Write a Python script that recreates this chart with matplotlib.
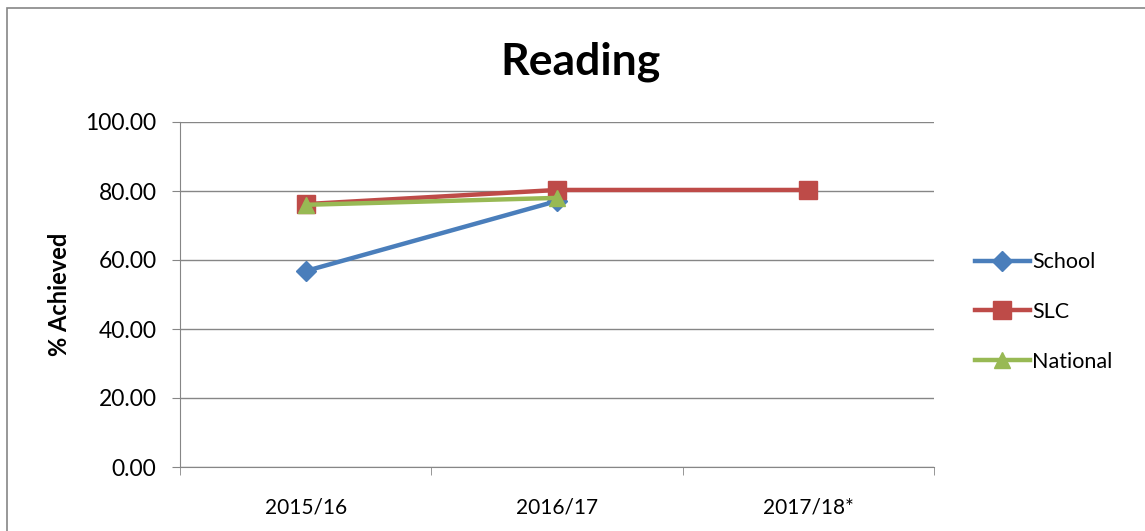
import matplotlib.pyplot as plt
from matplotlib.patches import Rectangle

# Reading attainment by year
years = ['2015/16', '2016/17', '2017/18*']
school = [56.8, 77.1, None]
slc = [76.2, 80.3, 80.3]
national = [76.0, 78.0, None]
y_ticks = [0, 20, 40, 60, 80, 100]

plt.rcParams['font.family'] = ['Lato', 'DejaVu Sans']

fig = plt.figure(figsize=(11.45, 5.31), dpi=100)
ax = fig.add_axes([180 / 1145, 1 - 467 / 531, (934 - 180) / 1145, (467 - 122) / 531])

grey = '#868686'
x = list(range(len(years)))


def pts(vals):
    xs = [i for i, v in zip(x, vals) if v is not None]
    ys = [v for v in vals if v is not None]
    return xs, ys


ax.plot(*pts(school), color='#4A7EBB', lw=3.2, marker='D', ms=10, label='School', zorder=3)
ax.plot(*pts(slc), color='#BE4B48', lw=3.2, marker='s', ms=13, label='SLC', zorder=3)
ax.plot(*pts(national), color='#98B954', lw=3.2, marker='^', ms=11, label='National', zorder=4)

ax.set_xlim(-0.5, len(years) - 0.5)
ax.set_ylim(0, 100)
ax.set_yticks(y_ticks)
ax.set_yticklabels([f'{v:.2f}' for v in y_ticks], fontsize=16.5)
ax.set_xticks(x)
ax.set_xticklabels(years, fontsize=15)
ax.tick_params(axis='x', length=0, pad=22)
ax.tick_params(axis='y', length=6, color=grey, pad=11)
ax.set_xticks([i - 0.5 for i in range(len(years) + 1)], minor=True)
ax.tick_params(axis='x', which='minor', length=6, color=grey)

ax.grid(axis='y', color=grey, lw=1)
ax.set_axisbelow(True)
for side in ['top', 'right']:
    ax.spines[side].set_visible(False)
for side in ['left', 'bottom']:
    ax.spines[side].set_color(grey)

ax.set_ylabel('% Achieved', fontsize=17, fontweight='bold', labelpad=10)
fig.text(0.507, 1 - 62 / 531, 'Reading', ha='center', va='center', fontsize=32, fontweight='bold')

ax.legend(loc='center left', bbox_to_anchor=(975 / 1145, 1 - 312 / 531), bbox_transform=fig.transFigure,
          frameon=False, fontsize=15.5, handlelength=2.55, labelspacing=1.38, handletextpad=0.1,
          borderpad=0, borderaxespad=0)

# chart frame
fig.patches.append(Rectangle((7 / 1145, -0.1), 1.2, 1 - 8 / 531 + 0.1, transform=fig.transFigure,
                             fill=False, edgecolor=grey, lw=1.2))

fig.savefig('out.png', dpi=100)
